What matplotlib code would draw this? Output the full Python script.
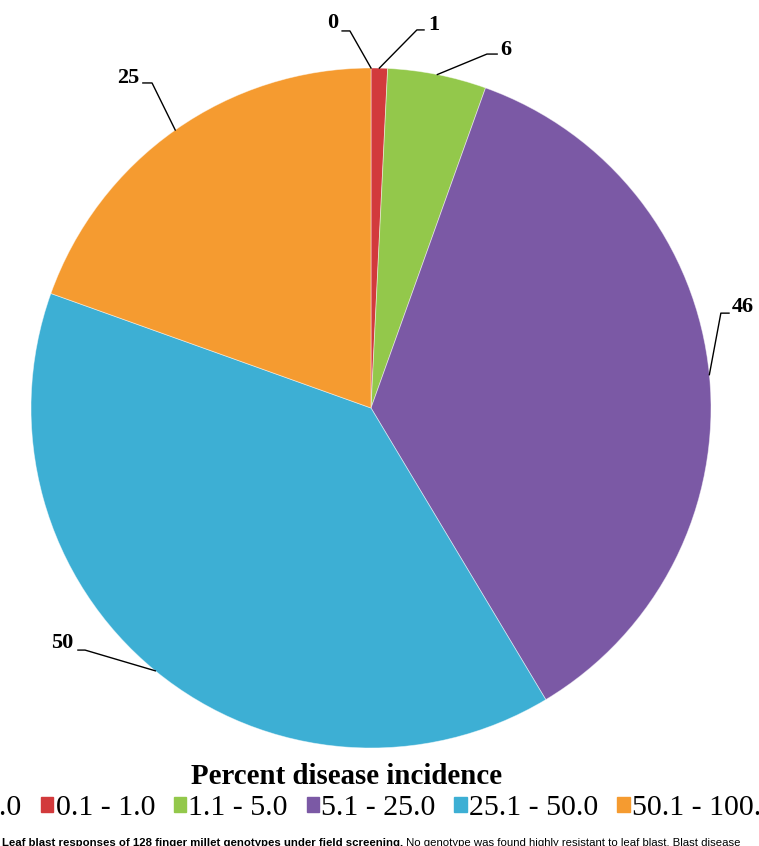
import matplotlib
matplotlib.use('Agg')
import matplotlib.pyplot as plt
import numpy as np

# data: number of genotypes per disease incidence class
classes = ['0.0', '0.1 - 1.0', '1.1 - 5.0', '5.1 - 25.0', '25.1 - 50.0', '50.1 - 100.0']
counts = [0, 1, 6, 46, 50, 25]
colors = ['#4A7EBB', '#D23A3C', '#93C84B', '#7B59A5', '#3DAFD4', '#F59B30']

# label text / leader line layout (data units, pie radius = 1)
label_text = [(-0.097, 1.132, 'right'), (0.168, 1.126, 'left'), (0.379, 1.053, 'left'),
              (1.062, 0.297, 'left'), (-0.876, -0.691, 'right'), (-0.682, 0.971, 'right')]
leader_start = [(-0.085, 1.109), (0.156, 1.112), (0.371, 1.041),
                (1.053, 0.279), (-0.862, -0.712), (-0.671, 0.956)]
leader_elbow = [(-0.062, 1.109), (0.135, 1.112), (0.341, 1.041),
                (1.029, 0.279), (-0.841, -0.712), (-0.644, 0.956)]

W, H = 759, 846
fig = plt.figure(figsize=(W / 100, H / 100), dpi=100)
cx, cy, r = 371, 408, 340
ax = fig.add_axes([(cx - r) / W, (H - cy - r) / H, 2 * r / W, 2 * r / H])

wedges, _ = ax.pie(counts, colors=colors, startangle=90, counterclock=False,
                   radius=1, wedgeprops=dict(edgecolor=(1, 1, 1, 0.5), linewidth=0.6))
ax.set_xlim(-1, 1)
ax.set_ylim(-1, 1)
ax.set_aspect('equal')
ax.axis('off')

serif = 'Liberation Serif'
for w, n, (tx, ty, ha), s, e in zip(wedges, counts, label_text, leader_start, leader_elbow):
    mid = np.deg2rad((w.theta1 + w.theta2) / 2)
    px, py = np.cos(mid), np.sin(mid)
    ax.plot([s[0], e[0], px], [s[1], e[1], py], color='black', lw=1.0,
            clip_on=False, zorder=5)
    ax.text(tx, ty, str(n), ha=ha, va='center', fontsize=16, fontweight='bold',
            family=serif, clip_on=False)

fig.text(347 / W, (H - 776) / H, 'Percent disease incidence', ha='center', va='center',
         fontsize=20.8, fontweight='bold', family=serif)

handles = [plt.Rectangle((0, 0), 1, 1, color=c) for c in colors]
fig.legend(handles, classes, loc='center', bbox_to_anchor=(373 / W, (H - 808) / H), ncol=6,
           frameon=False, prop=dict(family=serif, size=21.5), handlelength=0.42,
           handleheight=0.42, handletextpad=0.08, columnspacing=0.62, borderpad=0)

# caption: bold lead sentence followed by regular text
cap_y = (H - 843) / H
t1 = fig.text(2 / W, cap_y,
              'Leaf blast responses of 128 finger millet genotypes under field screening.',
              ha='left', va='center', fontsize=8.2, fontweight='bold', family='Liberation Sans')
fig.canvas.draw()
bb = t1.get_window_extent()
fig.text(bb.x1 / W, cap_y,
         ' No genotype was found highly resistant to leaf blast. Blast disease',
         ha='left', va='center', fontsize=8.2, family='Liberation Sans')

fig.savefig('out.png', dpi=100, facecolor='white')
